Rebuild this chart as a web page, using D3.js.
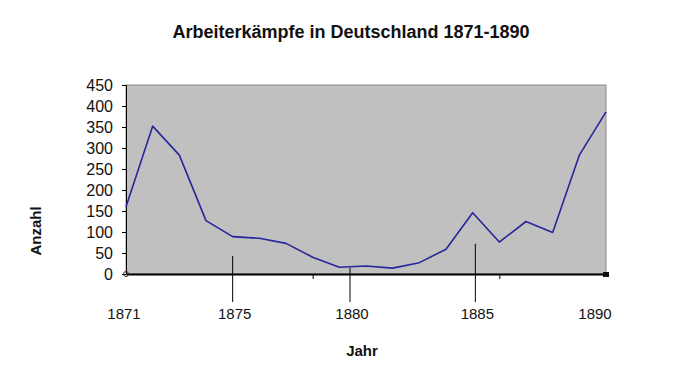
<!DOCTYPE html>
<html lang="de">
<head>
<meta charset="UTF-8">
<title>Arbeiterkämpfe in Deutschland 1871-1890</title>
<script src="https://d3js.org/d3.v7.min.js"></script>
<style>
  body { margin: 0; background: #fff; }
  text { font-family: Arial, "Liberation Sans", sans-serif; fill: #111; }
</style>
</head>
<body>
<svg width="700" height="380"></svg>
<script>
// 19 Datenpunkte (Index 0..18), Werte aus dem Bild geschätzt
const points = d3.range(19);
const counts = [160, 352, 283, 127, 89, 85, 73, 40, 16, 19, 14, 27, 59, 146, 76, 125, 99, 283, 386];
const yTicks = [0, 50, 100, 150, 200, 250, 300, 350, 400, 450];
// Jahresbeschriftungen unter der Achse (Position als Punkt-Index)
const yearLabels = ['1871', '1875', '1880', '1885', '1890'];
const yearAt = [0, 4, 8.4, 13.1, 18];
// nachträglich eingezeichnete Markierungslinien: Index und oberer Wert
const markerAt = [4, 8.4, 13.1];
const markerTop = [43, 14, 72];
const minorTicks = [7, 14];

const svg = d3.select('svg');
const plotL = 126, plotR = 606, plotT = 85, plotB = 274;

const x = d3.scaleLinear().domain([0, 18]).range([plotL, plotR]);
const y = d3.scaleLinear().domain([0, 450]).range([plotB, plotT]);

svg.append('rect')
  .attr('width', 700).attr('height', 380).attr('fill', '#fff');

// Zeichenfläche
svg.append('rect')
  .attr('x', plotL).attr('y', plotT)
  .attr('width', plotR - plotL).attr('height', plotB - plotT)
  .attr('fill', '#c0c0c0')
  .attr('stroke', '#8a8a8a')
  .attr('stroke-width', 1);

// Titel
svg.append('text')
  .attr('x', 351).attr('y', 38)
  .attr('text-anchor', 'middle')
  .style('font-size', '18px').style('font-weight', 'bold')
  .text('Arbeiterkämpfe in Deutschland 1871-1890');

// y-Achse
const yAxis = svg.append('g')
  .attr('transform', `translate(${plotL},0)`)
  .call(d3.axisLeft(y).tickValues(yTicks).tickSize(4).tickPadding(9));
yAxis.select('.domain').attr('stroke', '#000');
yAxis.selectAll('.tick line').attr('stroke', '#000');
yAxis.selectAll('text')
  .style('font-size', '16px')
  .style('font-family', 'Arial, "Liberation Sans", sans-serif')
  .attr('fill', '#222');

// x-Achse (nur Linie und kleine Teilstriche)
const xAxis = svg.append('g')
  .attr('transform', `translate(0,${plotB})`)
  .call(d3.axisBottom(x).tickValues(minorTicks).tickSize(5).tickFormat('').tickSizeOuter(0));
xAxis.select('.domain').attr('stroke', '#000').attr('stroke-width', 1.8);
xAxis.selectAll('.tick line').attr('stroke', '#000');

// Markierungslinien
svg.append('g').selectAll('line')
  .data(markerAt)
  .join('line')
  .attr('x1', d => x(d)).attr('x2', d => x(d))
  .attr('y1', (d, i) => y(markerTop[i]))
  .attr('y2', plotB + 28)
  .attr('stroke', '#000')
  .attr('stroke-width', 1);

// Datenlinie
svg.append('path')
  .datum(points)
  .attr('fill', 'none')
  .attr('stroke', '#26269a')
  .attr('stroke-width', 1.6)
  .attr('stroke-linejoin', 'round')
  .attr('d', d3.line().x(d => x(d)).y(d => y(counts[d])));

// Eckmarken der Achse
svg.append('rect')
  .attr('x', x(18) - 3).attr('y', plotB - 2)
  .attr('width', 6).attr('height', 5)
  .attr('fill', '#111');
svg.append('circle')
  .attr('cx', x(0)).attr('cy', plotB)
  .attr('r', 2.5)
  .attr('fill', 'none').attr('stroke', '#333').attr('stroke-width', 1);

// Jahresbeschriftungen
svg.append('g').selectAll('text')
  .data(yearLabels)
  .join('text')
  .attr('x', (d, i) => x(yearAt[i]) + (i === 0 ? -2 : i === 4 ? -11 : 2))
  .attr('y', 319)
  .attr('text-anchor', 'middle')
  .style('font-size', '15px')
  .text(d => d);

// Achsentitel
svg.append('text')
  .attr('x', 362).attr('y', 356)
  .attr('text-anchor', 'middle')
  .style('font-size', '15px').style('font-weight', 'bold')
  .text('Jahr');

svg.append('text')
  .attr('transform', 'translate(41,231) rotate(-90)')
  .attr('text-anchor', 'middle')
  .style('font-size', '15px').style('font-weight', 'bold')
  .text('Anzahl');
</script>
</body>
</html>
